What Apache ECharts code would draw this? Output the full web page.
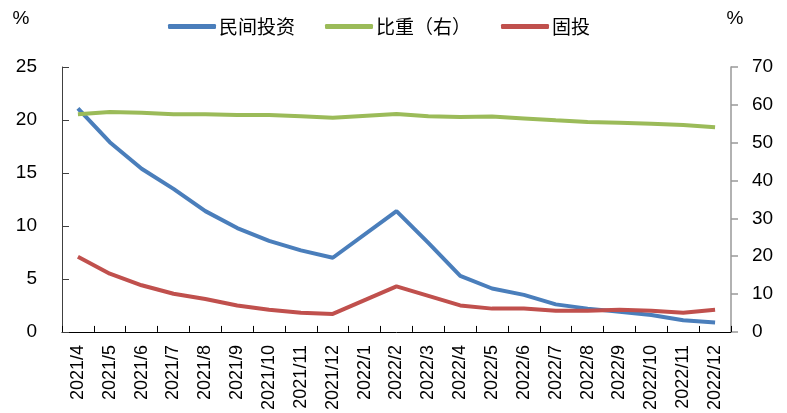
<!DOCTYPE html>
<html>
<head>
<meta charset="utf-8">
<script src="https://cdn.jsdelivr.net/npm/echarts@6/dist/echarts.min.js"></script>
<style>
  html, body { margin: 0; padding: 0; background: #fff; }
  #chart { width: 787px; height: 413px; }
</style>
</head>
<body>
<div id="chart"></div>
<script>
// 月份（2022/1 与 2/2 合并公布，1月为空）
const months = ["2021/4", "2021/5", "2021/6", "2021/7", "2021/8", "2021/9", "2021/10", "2021/11", "2021/12",
  "2022/1", "2022/2", "2022/3", "2022/4", "2022/5", "2022/6", "2022/7", "2022/8", "2022/9", "2022/10", "2022/11", "2022/12"];

const privateInv = [21.1, 17.9, 15.4, 13.5, 11.4, 9.8, 8.6, 7.7, 7.0, null, 11.4, 8.4, 5.3, 4.1, 3.5, 2.6, 2.2, 1.9, 1.6, 1.1, 0.9];
const share = [57.5, 58.1, 57.9, 57.5, 57.5, 57.3, 57.3, 57.0, 56.6, null, 57.6, 57.0, 56.8, 56.9, 56.4, 55.9, 55.5, 55.3, 55.0, 54.7, 54.1];
const fixedInv = [7.1, 5.5, 4.4, 3.6, 3.1, 2.5, 2.1, 1.8, 1.7, null, 4.3, 3.4, 2.5, 2.2, 2.2, 2.0, 2.0, 2.1, 2.0, 1.8, 2.1];

const chart = echarts.init(document.getElementById("chart"));

const axisFont = { color: "#000", fontSize: 19, fontFamily: "Liberation Sans, Arial, sans-serif" };

const lineSeries = (name, data, color, yIdx) => ({
  name,
  type: "line",
  data,
  yAxisIndex: yIdx,
  connectNulls: true,
  showSymbol: false,
  symbol: "none",
  lineStyle: { color, width: 4 },
  itemStyle: { color }
});

chart.setOption({
  animation: false,
  backgroundColor: "#fff",
  legend: {
    top: 12,
    left: 163,
    itemWidth: 48,
    itemHeight: 5,
    itemGap: 30,
    icon: "roundRect",
    textStyle: { color: "#000", fontSize: 19, padding: [0, 0, 0, -2], fontFamily: "Noto Sans CJK SC, sans-serif" },
    data: ["民间投资", "比重（右）", "固投"]
  },
  grid: { left: 62, right: 56, top: 67, bottom: 78 },
  xAxis: {
    type: "category",
    data: months,
    boundaryGap: true,
    axisLine: { lineStyle: { color: "#000", width: 1 } },
    axisTick: { show: true, inside: true, length: 6, lineStyle: { color: "#000" } },
    axisLabel: Object.assign({}, axisFont, { fontSize: 18, rotate: 90, interval: 0, margin: 13 }),
    splitLine: { show: false }
  },
  yAxis: [
    {
      type: "value",
      min: 0, max: 25, interval: 5,
      name: "%",
      nameLocation: "end",
      nameGap: 0,
      nameTextStyle: Object.assign({}, axisFont, { padding: [0, 0, 39, -82] }),
      axisLine: { show: true, lineStyle: { color: "#404040", width: 1 } },
      axisTick: { show: true, inside: true, length: 7, lineStyle: { color: "#404040" } },
      axisLabel: Object.assign({}, axisFont, { margin: 25 }),
      splitLine: { show: false }
    },
    {
      type: "value",
      min: 0, max: 70, interval: 10,
      name: "%",
      nameLocation: "end",
      nameGap: 0,
      nameTextStyle: Object.assign({}, axisFont, { padding: [0, 0, 39, 8] }),
      axisLine: { show: true, lineStyle: { color: "#999", width: 1.5 } },
      axisTick: { show: true, inside: false, length: 7, lineStyle: { color: "#999", width: 1.5 } },
      axisLabel: Object.assign({}, axisFont, { margin: 21 }),
      splitLine: { show: false }
    }
  ],
  series: [
    lineSeries("民间投资", privateInv, "#4a7ebb", 0),
    lineSeries("比重（右）", share, "#9bbb59", 1),
    lineSeries("固投", fixedInv, "#c0504d", 0)
  ]
});
</script>
</body>
</html>
